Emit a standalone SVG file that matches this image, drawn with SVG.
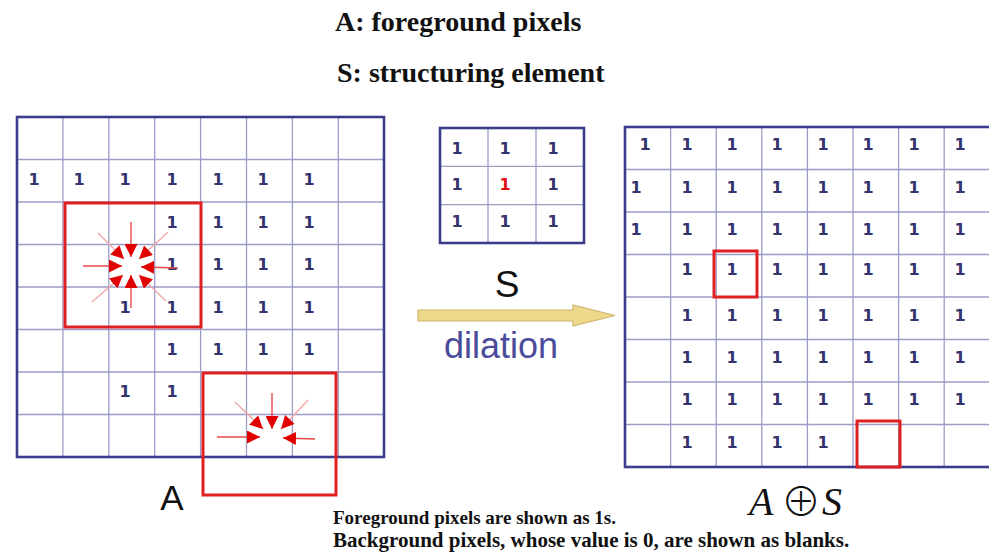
<svg xmlns="http://www.w3.org/2000/svg" width="989" height="555" viewBox="0 0 989 555">
<style>
.bg{fill:#ffffff}
.gl{stroke:#9c9cc8;stroke-width:1.3;fill:none}
.bd{stroke:#3c3c8c;stroke-width:2.6;fill:none}
.one{font-family:"DejaVu Sans",Verdana,sans-serif;font-weight:bold;font-size:16px;fill:#33336e;text-anchor:middle}
.red1{fill:#e01010}
.rbox{stroke:#e02020;stroke-width:3;fill:none}
.title{font-family:"Liberation Serif","Times New Roman",serif;font-weight:bold;font-size:28px;fill:#111}
.note{font-family:"Liberation Serif","Times New Roman",serif;font-weight:bold;fill:#111}
.lbl{font-family:"Liberation Sans",Arial,sans-serif;fill:#111;text-anchor:middle}
.ar{stroke:#e84848;stroke-width:1.4;fill:none;marker-end:url(#ah)}
.ard{stroke:#f2a8a8;stroke-width:1.4;fill:none;marker-end:url(#ah)}
</style>
<defs>
<marker id="ah" viewBox="0 0 10 10" refX="10" refY="5" markerWidth="13" markerHeight="13" markerUnits="userSpaceOnUse" orient="auto">
<path d="M0,0 L10,5 L0,10 z" fill="#e00000"/>
</marker>
</defs>
<rect class="bg" x="0" y="0" width="989" height="555"/>

<g id="titles">
<text class="title" x="335" y="31">A: foreground pixels</text>
<text class="title" x="337" y="82">S: structuring element</text>
</g>

<g id="gridA">
<path class="gl" d="M62.9,117V457M108.8,117V457M154.7,117V457M200.6,117V457M246.5,117V457M292.4,117V457M338.3,117V457M17,159.5H384M17,202H384M17,244.5H384M17,287H384M17,329.5H384M17,372H384M17,414.5H384"/>
<rect class="bd" x="17" y="117" width="367" height="340"/>
<g>
<text class="one" x="34" y="185">1</text><text class="one" x="79" y="185">1</text><text class="one" x="125" y="185">1</text><text class="one" x="172" y="185">1</text><text class="one" x="218" y="185">1</text><text class="one" x="263" y="185">1</text><text class="one" x="309" y="185">1</text>
<text class="one" x="172" y="228">1</text><text class="one" x="218" y="228">1</text><text class="one" x="263" y="228">1</text><text class="one" x="309" y="228">1</text>
<text class="one" x="172" y="270">1</text><text class="one" x="218" y="270">1</text><text class="one" x="263" y="270">1</text><text class="one" x="309" y="270">1</text>
<text class="one" x="125" y="313">1</text><text class="one" x="172" y="313">1</text><text class="one" x="218" y="313">1</text><text class="one" x="263" y="313">1</text><text class="one" x="309" y="313">1</text>
<text class="one" x="172" y="355">1</text><text class="one" x="218" y="355">1</text><text class="one" x="263" y="355">1</text><text class="one" x="309" y="355">1</text>
<text class="one" x="125" y="397">1</text><text class="one" x="172" y="397">1</text>
</g>
<rect class="rbox" x="65" y="203" width="136" height="124"/>
<rect class="rbox" x="203" y="373" width="133" height="122"/>
</g>

<g id="probe-arrows">
<line class="ar" x1="83" y1="266" x2="122" y2="266"/>
<line class="ar" x1="131" y1="222" x2="131" y2="257"/>
<line class="ar" x1="178" y1="268" x2="141" y2="267"/>
<line class="ar" x1="131" y1="308" x2="131" y2="275"/>
<line class="ard" x1="98" y1="233" x2="124" y2="259"/>
<line class="ard" x1="168" y1="232" x2="139" y2="259"/>
<line class="ard" x1="92" y1="302" x2="123" y2="275"/>
<line class="ard" x1="166" y1="301" x2="139" y2="275"/>
<line class="ar" x1="217" y1="437" x2="260" y2="437"/>
<line class="ar" x1="272" y1="393" x2="272" y2="429"/>
<line class="ar" x1="315" y1="439" x2="283" y2="438"/>
<line class="ard" x1="235" y1="402" x2="263" y2="429"/>
<line class="ard" x1="308" y1="400" x2="281" y2="429"/>
</g>

<g id="gridS">
<path class="gl" d="M488,128V243M536,128V243M440,166.3H584M440,204.6H584"/>
<rect class="bd" x="440" y="128" width="144" height="115"/>
<text class="one" x="457" y="154">1</text><text class="one" x="505" y="154">1</text><text class="one" x="553" y="154">1</text>
<text class="one" x="457" y="190">1</text><text class="one red1" x="505" y="190">1</text><text class="one" x="553" y="190">1</text>
<text class="one" x="457" y="227">1</text><text class="one" x="505" y="227">1</text><text class="one" x="553" y="227">1</text>
</g>

<g id="connectors">
<path d="M418,310 H573 V305 L615,315.5 L573,326 V321 H418 Z" fill="#eed88c" stroke="#cdb46a" stroke-width="1.2"/>
<text x="501" y="358" font-family="'Liberation Sans',Arial,sans-serif" font-size="36" fill="#4b4b9b" text-anchor="middle">dilation</text>
</g>

<g id="gridResult">
<path class="gl" d="M670.6,127V467M716.2,127V467M761.8,127V467M807.4,127V467M853,127V467M898.6,127V467M944.2,127V467M625,169.5H991M625,212H991M625,254.5H991M625,297H991M625,339.5H991M625,382H991M625,424.5H991"/>
<rect class="bd" x="625" y="127" width="368" height="340"/>
<g>
<text class="one" x="645" y="150">1</text><text class="one" x="687" y="150">1</text><text class="one" x="732" y="150">1</text><text class="one" x="777" y="150">1</text><text class="one" x="823" y="150">1</text><text class="one" x="868" y="150">1</text><text class="one" x="914" y="150">1</text><text class="one" x="960" y="150">1</text>
<text class="one" x="636" y="193">1</text><text class="one" x="687" y="193">1</text><text class="one" x="732" y="193">1</text><text class="one" x="777" y="193">1</text><text class="one" x="823" y="193">1</text><text class="one" x="868" y="193">1</text><text class="one" x="914" y="193">1</text><text class="one" x="960" y="193">1</text>
<text class="one" x="636" y="235">1</text><text class="one" x="687" y="235">1</text><text class="one" x="732" y="235">1</text><text class="one" x="777" y="235">1</text><text class="one" x="823" y="235">1</text><text class="one" x="868" y="235">1</text><text class="one" x="914" y="235">1</text><text class="one" x="960" y="235">1</text>
<text class="one" x="687" y="275">1</text><text class="one" x="732" y="275">1</text><text class="one" x="777" y="275">1</text><text class="one" x="823" y="275">1</text><text class="one" x="868" y="275">1</text><text class="one" x="914" y="275">1</text><text class="one" x="960" y="275">1</text>
<text class="one" x="687" y="321">1</text><text class="one" x="732" y="321">1</text><text class="one" x="777" y="321">1</text><text class="one" x="823" y="321">1</text><text class="one" x="868" y="321">1</text><text class="one" x="914" y="321">1</text><text class="one" x="960" y="321">1</text>
<text class="one" x="687" y="363">1</text><text class="one" x="732" y="363">1</text><text class="one" x="777" y="363">1</text><text class="one" x="823" y="363">1</text><text class="one" x="868" y="363">1</text><text class="one" x="914" y="363">1</text><text class="one" x="960" y="363">1</text>
<text class="one" x="687" y="405">1</text><text class="one" x="732" y="405">1</text><text class="one" x="777" y="405">1</text><text class="one" x="823" y="405">1</text><text class="one" x="868" y="405">1</text><text class="one" x="914" y="405">1</text><text class="one" x="960" y="405">1</text>
<text class="one" x="687" y="448">1</text><text class="one" x="732" y="448">1</text><text class="one" x="777" y="448">1</text><text class="one" x="823" y="448">1</text>
</g>
<rect class="rbox" x="714" y="251" width="43" height="46"/>
<rect class="rbox" x="857" y="421" width="43" height="46"/>
</g>

<g id="labels">
<text class="lbl" x="172" y="510" font-size="35">A</text>
<text class="lbl" x="507" y="297" font-size="37">S</text>
<text x="749" y="515" font-family="'Liberation Serif','Times New Roman',serif" font-style="italic" font-size="40" fill="#111">A</text>
<text x="801" y="516" font-family="'Noto Sans CJK JP','DejaVu Serif',sans-serif" font-weight="300" font-size="40" fill="#111" text-anchor="middle">⊕</text>
<text x="822" y="515" font-family="'Liberation Serif','Times New Roman',serif" font-style="italic" font-size="40" fill="#111">S</text>
</g>

<g id="notes">
<text class="note" x="333" y="524" font-size="19">Foreground pixels are shown as 1s.</text>
<text class="note" x="333" y="547" font-size="21">Background pixels, whose value is 0, are shown as blanks.</text>
</g>
</svg>
